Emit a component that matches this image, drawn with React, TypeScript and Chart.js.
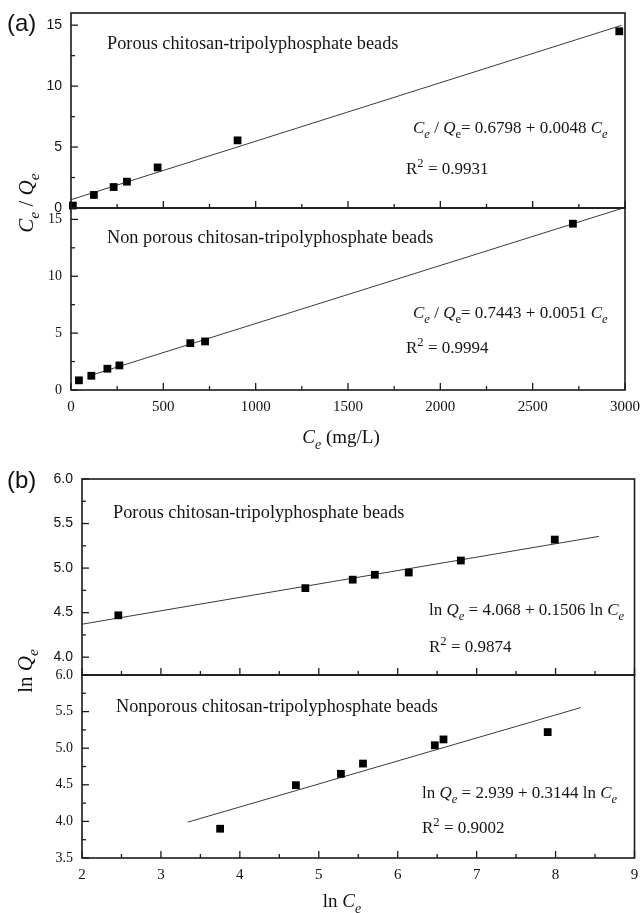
import React, { useEffect, useRef } from "react";
import { Chart, registerables } from "chart.js";
Chart.register(...registerables);

const PAGE_W = 640;
const PAGE_H = 913;
const SERIF = '"Liberation Serif", "Times New Roman", Times, serif';
const SANS = '"Liberation Sans", Arial, Helvetica, sans-serif';

// ---------- (a) Langmuir plots ----------
const ceTicks = [0, 500, 1000, 1500, 2000, 2500, 3000];
const ratioTicks = [0, 5, 10, 15];
const porousCe = [10, 124, 231, 303, 469, 902, 2969];
const porousRatio = [0.2, 1.07, 1.72, 2.16, 3.33, 5.55, 14.5];
const porousFitCe = [0, 2980];
const porousFitRatio = [0.68, 14.98];
const nonporousCe = [43, 110, 197, 262, 646, 726, 2718];
const nonporousRatio = [0.85, 1.25, 1.87, 2.16, 4.12, 4.27, 14.62];
const nonporousFitCe = [100, 2990];
const nonporousFitRatio = [1.25, 16.0];

// ---------- (b) Freundlich plots ----------
const lnCeTicks = [2, 3, 4, 5, 6, 7, 8, 9];
const lnQeTicksTop = [4.0, 4.5, 5.0, 5.5, 6.0];
const lnQeTicksBottom = [3.5, 4.0, 4.5, 5.0, 5.5, 6.0];
const porousLnCe = [2.46, 4.83, 5.43, 5.71, 6.14, 6.8, 7.99];
const porousLnQe = [4.47, 4.775, 4.87, 4.925, 4.95, 5.085, 5.32];
const porousFitLnCe = [2.0, 8.55];
const porousFitLnQe = [4.37, 5.356];
const nonporousLnCe = [3.75, 4.71, 5.28, 5.56, 6.47, 6.58, 7.9];
const nonporousLnQe = [3.9, 4.495, 4.65, 4.79, 5.04, 5.12, 5.22];
const nonporousFitLnCe = [3.34, 8.32];
const nonporousFitLnQe = [3.99, 5.555];

// ---------- texts ----------
const porousTitle = "Porous chitosan-tripolyphosphate beads";
const nonporousTitleA = "Non porous chitosan-tripolyphosphate beads";
const nonporousTitleB = "Nonporous chitosan-tripolyphosphate beads";

type Seg = { t: string; i?: boolean; sub?: boolean; sup?: boolean };
type Note = { x: number; y: number; size: number; segs: Seg[] };

const eqA1: Seg[] = [
  { t: "C", i: true }, { t: "e", i: true, sub: true }, { t: " / " },
  { t: "Q", i: true }, { t: "e", sub: true }, { t: "= 0.6798 + 0.0048 " },
  { t: "C", i: true }, { t: "e", i: true, sub: true },
];
const eqA2: Seg[] = [
  { t: "C", i: true }, { t: "e", i: true, sub: true }, { t: " / " },
  { t: "Q", i: true }, { t: "e", sub: true }, { t: "= 0.7443 + 0.0051 " },
  { t: "C", i: true }, { t: "e", i: true, sub: true },
];
const eqB1: Seg[] = [
  { t: "ln " }, { t: "Q", i: true }, { t: "e", i: true, sub: true },
  { t: " = 4.068 + 0.1506 ln " }, { t: "C", i: true }, { t: "e", i: true, sub: true },
];
const eqB2: Seg[] = [
  { t: "ln " }, { t: "Q", i: true }, { t: "e", i: true, sub: true },
  { t: " = 2.939 + 0.3144 ln " }, { t: "C", i: true }, { t: "e", i: true, sub: true },
];
const r2 = (v: string): Seg[] => [{ t: "R" }, { t: "2", sup: true }, { t: " = " + v }];

type Panel = {
  box: { left: number; right: number; top: number; bottom: number };
  xMin: number; xMax: number; xTicks: number[];
  yMin: number; yMax: number; yTicks: number[];
  xLabels: boolean; yFont: string; yDec: number;
  px: number[]; py: number[]; fx: number[]; fy: number[];
  notes: Note[];
  extra?: (ctx: CanvasRenderingContext2D) => void;
};

function segFont(s: Seg, size: number) {
  const fs = s.sub || s.sup ? size * 0.74 : size;
  return `${s.i ? "italic " : ""}${fs}px ${SERIF}`;
}
function richWidth(ctx: CanvasRenderingContext2D, segs: Seg[], size: number) {
  let w = 0;
  for (const s of segs) { ctx.font = segFont(s, size); w += ctx.measureText(s.t).width; }
  return w;
}
function drawRich(ctx: CanvasRenderingContext2D, x: number, y: number, segs: Seg[], size: number) {
  let cx = x;
  ctx.textBaseline = "alphabetic";
  ctx.textAlign = "left";
  for (const s of segs) {
    ctx.font = segFont(s, size);
    const dy = s.sub ? size * 0.3 : s.sup ? -size * 0.42 : 0;
    ctx.fillText(s.t, cx, y + dy);
    cx += ctx.measureText(s.t).width;
  }
}

const titleA_Y: Seg[] = [{ t: "C", i: true }, { t: "e", i: true, sub: true }, { t: " / " }, { t: "Q", i: true }, { t: "e", i: true, sub: true }];
const titleA_X: Seg[] = [{ t: "C", i: true }, { t: "e", i: true, sub: true }, { t: " (mg/L)" }];
const titleB_Y: Seg[] = [{ t: "ln " }, { t: "Q", i: true }, { t: "e", i: true, sub: true }];
const titleB_X: Seg[] = [{ t: "ln " }, { t: "C", i: true }, { t: "e", i: true, sub: true }];

function figureTexts(ctx: CanvasRenderingContext2D, tag: string, tagY: number, yTitle: Seg[], yCx: number, yCy: number, ySize: number, xTitle: Seg[], xCx: number, xBase: number, xSize: number) {
  ctx.fillStyle = "#111";
  ctx.font = `24px ${SANS}`;
  ctx.textAlign = "left";
  ctx.textBaseline = "alphabetic";
  ctx.fillText(tag, 7, tagY);
  const wy = richWidth(ctx, yTitle, ySize);
  ctx.save();
  ctx.translate(yCx, yCy);
  ctx.rotate(-Math.PI / 2);
  drawRich(ctx, -wy / 2, 0, yTitle, ySize);
  ctx.restore();
  const wx = richWidth(ctx, xTitle, xSize);
  drawRich(ctx, xCx - wx / 2, xBase, xTitle, xSize);
}

function makeDecor(p: Panel) {
  return {
    id: "decor",
    afterDraw(chart: any) {
      const { ctx, chartArea: a } = chart;
      const xs = chart.scales.x;
      const ys = chart.scales.y;
      ctx.save();
      ctx.strokeStyle = "#1a1a1a";
      ctx.lineWidth = 1.6;
      ctx.strokeRect(a.left, a.top, a.right - a.left, a.bottom - a.top);
      ctx.lineWidth = 1.3;
      const tick = (x1: number, y1: number, x2: number, y2: number) => {
        ctx.beginPath(); ctx.moveTo(x1, y1); ctx.lineTo(x2, y2); ctx.stroke();
      };
      p.xTicks.forEach((v, i) => {
        const X = xs.getPixelForValue(v);
        tick(X, a.bottom, X, a.bottom - 7);
        if (i < p.xTicks.length - 1) {
          const m = xs.getPixelForValue((v + p.xTicks[i + 1]) / 2);
          tick(m, a.bottom, m, a.bottom - 4);
        }
      });
      p.yTicks.forEach((v, i) => {
        const Y = ys.getPixelForValue(v);
        tick(a.left, Y, a.left + 7, Y);
        if (i < p.yTicks.length - 1) {
          const m = ys.getPixelForValue((v + p.yTicks[i + 1]) / 2);
          tick(a.left, m, a.left + 4, m);
        }
      });
      ctx.fillStyle = "#151515";
      for (const n of p.notes) drawRich(ctx, n.x, n.y, n.segs, n.size);
      if (p.extra) p.extra(ctx);
      ctx.restore();
    },
  };
}

function buildConfig(p: Panel): any {
  const xAxisH = p.xLabels ? 40 : 0;
  return {
    type: "scatter",
    data: {
      datasets: [
        {
          data: p.px.map((x, i) => ({ x, y: p.py[i] })),
          pointStyle: "rect", pointRadius: 5.5, pointHoverRadius: 5.5,
          backgroundColor: "#000", borderColor: "#000", borderWidth: 0,
          showLine: false, clip: false,
        },
        {
          data: p.fx.map((x, i) => ({ x, y: p.fy[i] })),
          showLine: true, borderColor: "#3a3a3a", borderWidth: 1,
          pointRadius: 0, pointHoverRadius: 0, fill: false, tension: 0,
        },
      ],
    },
    options: {
      responsive: false, animation: false, events: [],
      layout: { padding: { left: 0, top: p.box.top, right: PAGE_W - p.box.right, bottom: PAGE_H - p.box.bottom - xAxisH } },
      plugins: { legend: { display: false }, tooltip: { enabled: false } },
      scales: {
        x: {
          type: "linear", position: "bottom", min: p.xMin, max: p.xMax,
          afterBuildTicks: (s: any) => { s.ticks = p.xTicks.map((v) => ({ value: v })); },
          afterFit: (s: any) => { s.height = xAxisH; s.paddingLeft = 0; s.paddingRight = 0; },
          grid: { display: false, drawTicks: false }, border: { display: false },
          ticks: {
            display: p.xLabels, autoSkip: false, maxRotation: 0, minRotation: 0, padding: 8,
            color: "#111", font: { family: SERIF, size: 15 }, callback: (v: number) => String(v),
          },
        },
        y: {
          type: "linear", position: "left", min: p.yMin, max: p.yMax,
          afterBuildTicks: (s: any) => { s.ticks = p.yTicks.map((v) => ({ value: v })); },
          afterFit: (s: any) => { s.width = p.box.left; s.paddingTop = 0; s.paddingBottom = 0; },
          grid: { display: false, drawTicks: false }, border: { display: false },
          ticks: {
            autoSkip: false, padding: 9, color: "#111", font: { family: p.yFont, size: 14 },
            callback: (v: number) => v.toFixed(p.yDec),
          },
        },
      },
    },
    plugins: [makeDecor(p)],
  };
}

const A_L = 71, A_R = 625, B_L = 82, B_R = 637;
const TITLE_SIZE = 18.3;

const panels: Panel[] = [
  {
    box: { left: A_L, right: A_R, top: 13, bottom: 208 },
    xMin: 0, xMax: 3000, xTicks: ceTicks, yMin: 0, yMax: 16, yTicks: ratioTicks,
    xLabels: false, yFont: SANS, yDec: 0,
    px: porousCe, py: porousRatio, fx: porousFitCe, fy: porousFitRatio,
    notes: [
      { x: 107, y: 49, size: TITLE_SIZE, segs: [{ t: porousTitle }] },
      { x: 413, y: 133, size: 17, segs: eqA1 },
      { x: 406, y: 174, size: 17, segs: r2("0.9931") },
    ],
  },
  {
    box: { left: A_L, right: A_R, top: 208, bottom: 390 },
    xMin: 0, xMax: 3000, xTicks: ceTicks, yMin: 0, yMax: 16, yTicks: ratioTicks,
    xLabels: true, yFont: SERIF, yDec: 0,
    px: nonporousCe, py: nonporousRatio, fx: nonporousFitCe, fy: nonporousFitRatio,
    notes: [
      { x: 107, y: 243, size: TITLE_SIZE, segs: [{ t: nonporousTitleA }] },
      { x: 413, y: 318, size: 17, segs: eqA2 },
      { x: 406, y: 353, size: 17, segs: r2("0.9994") },
    ],
    extra: (ctx) => figureTexts(ctx, "(a)", 31, titleA_Y, 33, 203, 21, titleA_X, 341, 443, 19),
  },
  {
    box: { left: B_L, right: B_R, top: 479, bottom: 675 },
    xMin: 2, xMax: 9, xTicks: lnCeTicks, yMin: 3.8, yMax: 6.0, yTicks: lnQeTicksTop,
    xLabels: false, yFont: SANS, yDec: 1,
    px: porousLnCe, py: porousLnQe, fx: porousFitLnCe, fy: porousFitLnQe,
    notes: [
      { x: 113, y: 518, size: TITLE_SIZE, segs: [{ t: porousTitle }] },
      { x: 429, y: 615, size: 17, segs: eqB1 },
      { x: 429, y: 652, size: 17, segs: r2("0.9874") },
    ],
  },
  {
    box: { left: B_L, right: B_R, top: 675, bottom: 858 },
    xMin: 2, xMax: 9, xTicks: lnCeTicks, yMin: 3.5, yMax: 6.0, yTicks: lnQeTicksBottom,
    xLabels: true, yFont: SERIF, yDec: 1,
    px: nonporousLnCe, py: nonporousLnQe, fx: nonporousFitLnCe, fy: nonporousFitLnQe,
    notes: [
      { x: 116, y: 712, size: TITLE_SIZE, segs: [{ t: nonporousTitleB }] },
      { x: 422, y: 798, size: 17, segs: eqB2 },
      { x: 422, y: 833, size: 17, segs: r2("0.9002") },
    ],
    extra: (ctx) => figureTexts(ctx, "(b)", 488, titleB_Y, 32, 671, 21, titleB_X, 342, 907, 19),
  },
];

function PanelCanvas({ panel }: { panel: Panel }) {
  const ref = useRef<HTMLCanvasElement>(null);
  useEffect(() => {
    const chart = new Chart(ref.current as HTMLCanvasElement, buildConfig(panel));
    return () => chart.destroy();
  }, [panel]);
  return (
    <canvas
      ref={ref}
      width={PAGE_W}
      height={PAGE_H}
      style={{ position: "absolute", left: 0, top: 0, width: PAGE_W, height: PAGE_H, pointerEvents: "none" }}
    />
  );
}

export default function App() {
  return (
    <div style={{ position: "absolute", left: 0, top: 0, width: PAGE_W, height: PAGE_H, background: "#fff", overflow: "hidden" }}>
      {panels.map((p, i) => (
        <PanelCanvas key={i} panel={p} />
      ))}
    </div>
  );
}
